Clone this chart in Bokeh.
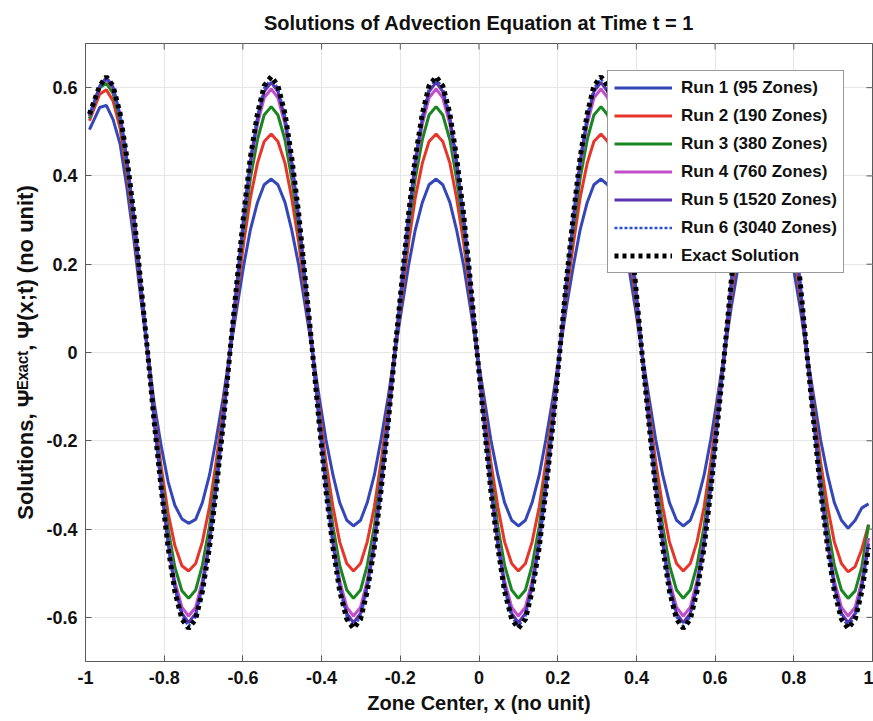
from math import pi
from bokeh.plotting import figure
from bokeh.models import FixedTicker, Legend, LegendItem, Range1d
from bokeh.embed import file_html
from bokeh.resources import INLINE

# ---------------- data ----------------
x = [-0.990, -0.964,
     -0.947, -0.930, -0.912, -0.895, -0.877, -0.860, -0.842, -0.825, -0.807, -0.790, -0.773, -0.755,
     -0.738, -0.720, -0.703, -0.685, -0.668, -0.650, -0.633, -0.615, -0.598, -0.581, -0.563, -0.546,
     -0.528, -0.511, -0.493, -0.476, -0.458, -0.441, -0.423, -0.406, -0.389, -0.371, -0.354, -0.336,
     -0.319, -0.301, -0.284, -0.266, -0.249, -0.231, -0.214, -0.196, -0.179, -0.162, -0.144, -0.127,
     -0.109, -0.092, -0.074, -0.057, -0.039, -0.022, -0.005, 0.013, 0.030, 0.048, 0.065, 0.083,
     0.100, 0.118, 0.135, 0.153, 0.170, 0.188, 0.205, 0.222, 0.240, 0.257, 0.275, 0.292,
     0.310, 0.327, 0.345, 0.362, 0.380, 0.397, 0.414, 0.432, 0.449, 0.467, 0.484, 0.502,
     0.519, 0.537, 0.554, 0.572, 0.589, 0.606, 0.624, 0.641, 0.659, 0.676, 0.694, 0.711,
     0.729, 0.746, 0.763, 0.781, 0.798, 0.816, 0.833, 0.851, 0.868, 0.886, 0.903, 0.921,
     0.938, 0.956, 0.973, 0.990]

run1 = [0.505, 0.555,
        0.560, 0.528, 0.472, 0.375, 0.255, 0.127, 0.000, -0.117, -0.215, -0.293, -0.346, -0.377,
        -0.387, -0.378, -0.340, -0.278, -0.197, -0.102, 0.000, 0.102, 0.197, 0.278, 0.340, 0.380,
        0.393, 0.380, 0.340, 0.278, 0.197, 0.102, 0.000, -0.102, -0.197, -0.278, -0.340, -0.380,
        -0.393, -0.380, -0.340, -0.278, -0.197, -0.102, 0.000, 0.102, 0.197, 0.278, 0.340, 0.380,
        0.393, 0.380, 0.340, 0.278, 0.197, 0.102, 0.000, -0.102, -0.197, -0.278, -0.340, -0.380,
        -0.393, -0.380, -0.340, -0.278, -0.197, -0.102, 0.000, 0.102, 0.197, 0.278, 0.340, 0.380,
        0.393, 0.380, 0.340, 0.278, 0.197, 0.102, 0.000, -0.102, -0.197, -0.278, -0.340, -0.380,
        -0.393, -0.380, -0.340, -0.278, -0.197, -0.102, 0.000, 0.102, 0.197, 0.278, 0.340, 0.380,
        0.393, 0.380, 0.340, 0.278, 0.197, 0.102, 0.000, -0.102, -0.197, -0.278, -0.340, -0.380,
        -0.398, -0.380, -0.352, -0.343]

run2 = [0.525, 0.585,
        0.595, 0.570, 0.507, 0.407, 0.283, 0.144, 0.000, -0.139, -0.263, -0.364, -0.437, -0.483,
        -0.495, -0.478, -0.429, -0.350, -0.248, -0.128, 0.000, 0.128, 0.248, 0.350, 0.429, 0.478,
        0.495, 0.478, 0.429, 0.350, 0.248, 0.128, 0.000, -0.128, -0.248, -0.350, -0.429, -0.478,
        -0.495, -0.478, -0.429, -0.350, -0.248, -0.128, 0.000, 0.128, 0.248, 0.350, 0.429, 0.478,
        0.495, 0.478, 0.429, 0.350, 0.248, 0.128, 0.000, -0.128, -0.248, -0.350, -0.429, -0.478,
        -0.495, -0.478, -0.429, -0.350, -0.248, -0.128, 0.000, 0.128, 0.248, 0.350, 0.429, 0.478,
        0.495, 0.478, 0.429, 0.350, 0.248, 0.128, 0.000, -0.128, -0.248, -0.350, -0.429, -0.478,
        -0.495, -0.478, -0.429, -0.350, -0.248, -0.128, 0.000, 0.128, 0.248, 0.350, 0.429, 0.478,
        0.495, 0.478, 0.429, 0.350, 0.248, 0.128, 0.000, -0.128, -0.248, -0.350, -0.429, -0.478,
        -0.497, -0.485, -0.445, -0.390]

run3 = [0.530, 0.600,
        0.610, 0.587, 0.523, 0.423, 0.296, 0.152, 0.000, -0.149, -0.285, -0.399, -0.486, -0.540,
        -0.557, -0.538, -0.482, -0.394, -0.279, -0.144, 0.000, 0.144, 0.279, 0.394, 0.482, 0.538,
        0.557, 0.538, 0.482, 0.394, 0.279, 0.144, 0.000, -0.144, -0.279, -0.394, -0.482, -0.538,
        -0.557, -0.538, -0.482, -0.394, -0.279, -0.144, 0.000, 0.144, 0.279, 0.394, 0.482, 0.538,
        0.557, 0.538, 0.482, 0.394, 0.279, 0.144, 0.000, -0.144, -0.279, -0.394, -0.482, -0.538,
        -0.557, -0.538, -0.482, -0.394, -0.279, -0.144, 0.000, 0.144, 0.279, 0.394, 0.482, 0.538,
        0.557, 0.538, 0.482, 0.394, 0.279, 0.144, 0.000, -0.144, -0.279, -0.394, -0.482, -0.538,
        -0.557, -0.538, -0.482, -0.394, -0.279, -0.144, 0.000, 0.144, 0.279, 0.394, 0.482, 0.538,
        0.557, 0.538, 0.482, 0.394, 0.279, 0.144, 0.000, -0.144, -0.279, -0.394, -0.482, -0.538,
        -0.557, -0.540, -0.485, -0.390]

run4 = [0.535, 0.603,
        0.620, 0.598, 0.534, 0.434, 0.306, 0.157, 0.000, -0.156, -0.301, -0.424, -0.518, -0.577,
        -0.597, -0.577, -0.517, -0.422, -0.299, -0.155, 0.000, 0.155, 0.299, 0.422, 0.517, 0.577,
        0.597, 0.577, 0.517, 0.422, 0.299, 0.155, 0.000, -0.155, -0.299, -0.422, -0.517, -0.577,
        -0.597, -0.577, -0.517, -0.422, -0.299, -0.155, 0.000, 0.155, 0.299, 0.422, 0.517, 0.577,
        0.597, 0.577, 0.517, 0.422, 0.299, 0.155, 0.000, -0.155, -0.299, -0.422, -0.517, -0.577,
        -0.597, -0.577, -0.517, -0.422, -0.299, -0.155, 0.000, 0.155, 0.299, 0.422, 0.517, 0.577,
        0.597, 0.577, 0.517, 0.422, 0.299, 0.155, 0.000, -0.155, -0.299, -0.422, -0.517, -0.577,
        -0.597, -0.577, -0.517, -0.422, -0.299, -0.155, 0.000, 0.155, 0.299, 0.422, 0.517, 0.577,
        0.597, 0.577, 0.517, 0.422, 0.299, 0.155, 0.000, -0.155, -0.299, -0.422, -0.517, -0.577,
        -0.597, -0.577, -0.517, -0.420]

run5 = [0.537, 0.602,
        0.623, 0.601, 0.538, 0.438, 0.310, 0.160, 0.000, -0.160, -0.308, -0.434, -0.531, -0.591,
        -0.612, -0.591, -0.530, -0.433, -0.306, -0.158, 0.000, 0.158, 0.306, 0.433, 0.530, 0.591,
        0.612, 0.591, 0.530, 0.433, 0.306, 0.158, 0.000, -0.158, -0.306, -0.433, -0.530, -0.591,
        -0.612, -0.591, -0.530, -0.433, -0.306, -0.158, 0.000, 0.158, 0.306, 0.433, 0.530, 0.591,
        0.612, 0.591, 0.530, 0.433, 0.306, 0.158, 0.000, -0.158, -0.306, -0.433, -0.530, -0.591,
        -0.612, -0.591, -0.530, -0.433, -0.306, -0.158, 0.000, 0.158, 0.306, 0.433, 0.530, 0.591,
        0.612, 0.591, 0.530, 0.433, 0.306, 0.158, 0.000, -0.158, -0.306, -0.433, -0.530, -0.591,
        -0.612, -0.591, -0.530, -0.433, -0.306, -0.158, 0.000, 0.158, 0.306, 0.433, 0.530, 0.591,
        0.612, 0.591, 0.530, 0.433, 0.306, 0.158, 0.000, -0.158, -0.306, -0.433, -0.530, -0.591,
        -0.612, -0.591, -0.530, -0.433]

run6 = [0.538, 0.603,
        0.624, 0.602, 0.539, 0.440, 0.311, 0.161, 0.000, -0.161, -0.310, -0.438, -0.537, -0.599,
        -0.620, -0.599, -0.537, -0.438, -0.310, -0.161, 0.000, 0.161, 0.310, 0.438, 0.537, 0.599,
        0.620, 0.599, 0.537, 0.438, 0.310, 0.161, 0.000, -0.161, -0.310, -0.438, -0.537, -0.599,
        -0.620, -0.599, -0.537, -0.438, -0.310, -0.161, 0.000, 0.161, 0.310, 0.438, 0.537, 0.599,
        0.620, 0.599, 0.537, 0.438, 0.310, 0.161, 0.000, -0.161, -0.310, -0.438, -0.537, -0.599,
        -0.620, -0.599, -0.537, -0.438, -0.310, -0.161, 0.000, 0.161, 0.310, 0.438, 0.537, 0.599,
        0.620, 0.599, 0.537, 0.438, 0.310, 0.161, 0.000, -0.161, -0.310, -0.438, -0.537, -0.599,
        -0.620, -0.599, -0.537, -0.438, -0.310, -0.161, 0.000, 0.161, 0.310, 0.438, 0.537, 0.599,
        0.620, 0.599, 0.537, 0.438, 0.310, 0.161, 0.000, -0.161, -0.310, -0.438, -0.537, -0.599,
        -0.620, -0.599, -0.537, -0.438]

exact = [0.540, 0.604,
         0.625, 0.604, 0.541, 0.442, 0.313, 0.162, 0.000, -0.162, -0.313, -0.442, -0.541, -0.604,
         -0.625, -0.604, -0.541, -0.442, -0.313, -0.162, 0.000, 0.162, 0.313, 0.442, 0.541, 0.604,
         0.625, 0.604, 0.541, 0.442, 0.313, 0.162, 0.000, -0.162, -0.313, -0.442, -0.541, -0.604,
         -0.625, -0.604, -0.541, -0.442, -0.313, -0.162, 0.000, 0.162, 0.313, 0.442, 0.541, 0.604,
         0.625, 0.604, 0.541, 0.442, 0.313, 0.162, 0.000, -0.162, -0.313, -0.442, -0.541, -0.604,
         -0.625, -0.604, -0.541, -0.442, -0.313, -0.162, 0.000, 0.162, 0.313, 0.442, 0.541, 0.604,
         0.625, 0.604, 0.541, 0.442, 0.313, 0.162, 0.000, -0.162, -0.313, -0.442, -0.541, -0.604,
         -0.625, -0.604, -0.541, -0.442, -0.313, -0.162, 0.000, 0.162, 0.313, 0.442, 0.541, 0.604,
         0.625, 0.604, 0.541, 0.442, 0.313, 0.162, 0.000, -0.162, -0.313, -0.442, -0.541, -0.604,
         -0.625, -0.604, -0.541, -0.442]

series_names = ["Run 1 (95 Zones)", "Run 2 (190 Zones)", "Run 3 (380 Zones)",
                "Run 4 (760 Zones)", "Run 5 (1520 Zones)", "Run 6 (3040 Zones)",
                "Exact Solution"]

x_limits = [-1, 1]
y_limits = [-0.7, 0.7]
x_ticks = [-1, -0.8, -0.6, -0.4, -0.2, 0, 0.2, 0.4, 0.6, 0.8, 1]
x_tick_labels = ["-1", "-0.8", "-0.6", "-0.4", "-0.2", "0", "0.2", "0.4", "0.6", "0.8", "1"]
y_ticks = [-0.6, -0.4, -0.2, 0, 0.2, 0.4, 0.6]
y_tick_labels = ["-0.6", "-0.4", "-0.2", "0", "0.2", "0.4", "0.6"]

title_text = "Solutions of Advection Equation at Time t = 1"
x_label = "Zone Center, x (no unit)"
y_label = "Solutions, \u03a8\u1d31\u02e3\u1d43\u1d9c\u1d57, \u03a8(x;t) (no unit)"

# ---------------- figure ----------------
FONT = "Liberation Sans"
AXIS_GRAY = "#5a5a5a"
TEXT = "#111111"

p = figure(width=873, height=721, output_backend="svg", toolbar_location=None,
           x_range=Range1d(*x_limits), y_range=Range1d(*y_limits),
           min_border_left=85, min_border_top=40, min_border_bottom=60, min_border_right=1,
           title=title_text)

p.title.text_font = FONT
p.title.text_font_style = "bold"
p.title.text_font_size = "20px"
p.title.align = "center"
p.title.text_color = TEXT
p.title.standoff = 19

p.outline_line_color = AXIS_GRAY
p.outline_line_width = 1

for ax, ticks, labels in ((p.xaxis[0], x_ticks, x_tick_labels), (p.yaxis[0], y_ticks, y_tick_labels)):
    ax.ticker = FixedTicker(ticks=ticks)
    ax.major_label_overrides = {t: l for t, l in zip(ticks, labels)}
    ax.major_tick_in = 6
    ax.major_tick_out = 0
    ax.minor_tick_line_color = None
    ax.axis_line_color = AXIS_GRAY
    ax.major_tick_line_color = AXIS_GRAY
    ax.major_label_text_font = FONT
    ax.major_label_text_font_style = "bold"
    ax.major_label_text_font_size = "18px"
    ax.major_label_text_color = TEXT
    ax.axis_label_text_font = FONT
    ax.axis_label_text_font_style = "bold"
    ax.axis_label_text_color = TEXT

p.xaxis.axis_label = x_label
p.yaxis.axis_label = y_label
p.xaxis.axis_label_text_font_size = "20px"
p.yaxis.axis_label_text_font_size = "22px"
p.xaxis.major_label_standoff = 9
p.xaxis.axis_label_standoff = 5
p.yaxis.major_label_standoff = 8
p.yaxis.axis_label_standoff = 5

p.xgrid.grid_line_color = "#e6e6e6"
p.ygrid.grid_line_color = "#e6e6e6"

# mirrored inward ticks on the top and right edges (glyphs are clipped to the frame)
p.scatter(x=x_ticks, y=[y_limits[1]] * len(x_ticks), marker="dash", angle=pi / 2,
          size=12, line_color=AXIS_GRAY, line_width=1)
p.scatter(x=[x_limits[1]] * len(y_ticks), y=y_ticks, marker="dash",
          size=12, line_color=AXIS_GRAY, line_width=1)

# ---------------- lines ----------------
styles = [
    dict(line_color="#3447b8", line_width=3),
    dict(line_color="#e8352b", line_width=3),
    dict(line_color="#17871f", line_width=3),
    dict(line_color="#c24fc9", line_width=3),
    dict(line_color="#5b32b0", line_width=3),
    dict(line_color="#2b4fd0", line_width=2.5, line_dash="3 2"),
    dict(line_color="#000000", line_width=5, line_dash="4 4"),
]
all_series = [run1, run2, run3, run4, run5, run6, exact]

items = []
for name, ys, st in zip(series_names, all_series, styles):
    r = p.line(x, ys, **st)
    items.append(LegendItem(label=name, renderers=[r]))

legend = Legend(items=items, location=(522, 388))
legend.label_text_font = FONT
legend.label_text_font_style = "bold"
legend.label_text_font_size = "17px"
legend.label_text_color = TEXT
legend.glyph_width = 58
legend.glyph_height = 21
legend.label_height = 21
legend.spacing = 7
legend.padding = 6
legend.label_standoff = 9
legend.border_line_color = "#333333"
legend.border_line_width = 1
legend.background_fill_color = "white"
legend.background_fill_alpha = 1.0
p.add_layout(legend)

open("out.html", "w").write(file_html(p, INLINE))
